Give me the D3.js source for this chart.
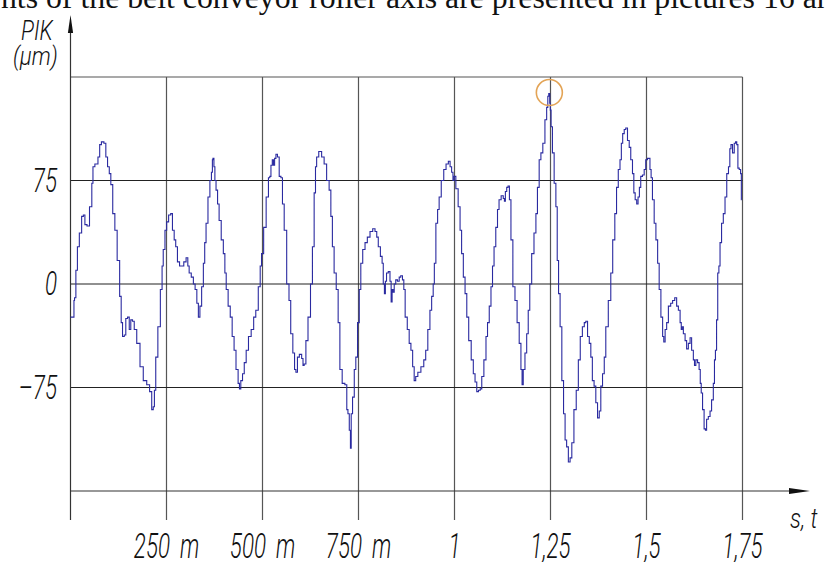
<!DOCTYPE html>
<html>
<head>
<meta charset="utf-8">
<script src="https://cdn.jsdelivr.net/npm/d3@7"></script>
<style>
  body { margin: 0; background: #fff; overflow: hidden; }
  .iso { font-family: Roboto, 'DejaVu Sans', sans-serif; font-weight: 300; font-style: italic; fill: #111; }
</style>
</head>
<body>
<script>
// profile of the roller axis, [time s, PIK um]
const profileA = [
  [0.000, -24], [0.009, -24], [0.009, -12], [0.012, -10], [0.016, 10], [0.020, 27], [0.026, 37], [0.032, 49],
  [0.035, 50], [0.040, 43], [0.046, 42], [0.053, 56], [0.058, 73], [0.059, 85], [0.068, 87], [0.075, 92],
  [0.077, 101], [0.084, 103], [0.090, 102], [0.094, 92], [0.099, 85], [0.103, 80], [0.107, 72], [0.113, 51],
  [0.118, 39], [0.125, 17], [0.131, -9], [0.133, -28], [0.138, -38], [0.142, -37], [0.146, -25], [0.151, -24],
  [0.155, -33], [0.159, -26], [0.164, -27], [0.168, -33], [0.177, -43], [0.185, -60], [0.194, -70], [0.203, -73],
  [0.209, -78], [0.214, -91], [0.217, -89], [0.220, -77], [0.224, -53], [0.231, -31], [0.237, -4], [0.240, 13],
  [0.243, 25], [0.249, 39], [0.252, 45], [0.259, 50], [0.263, 51], [0.268, 39], [0.272, 32], [0.276, 27],
  [0.281, 16], [0.287, 13], [0.292, 13], [0.298, 16], [0.304, 19], [0.307, 13], [0.311, 8], [0.318, 5],
  [0.322, 0], [0.327, -4], [0.331, -14], [0.335, -24], [0.339, -16], [0.344, -2], [0.348, 15], [0.351, 30],
  [0.355, 44], [0.361, 63], [0.365, 75], [0.369, 81], [0.370, 90], [0.372, 91], [0.375, 85], [0.377, 75],
  [0.381, 68], [0.385, 58], [0.389, 46], [0.396, 32], [0.400, 22], [0.404, 8], [0.407, -4], [0.414, -16],
  [0.418, -24], [0.424, -38], [0.428, -48], [0.434, -62], [0.439, -72], [0.441, -76], [0.446, -70], [0.450, -65],
  [0.455, -57], [0.460, -48], [0.467, -38], [0.474, -33], [0.480, -24], [0.485, -19], [0.493, -2], [0.495, 13],
  [0.500, 22], [0.506, 41], [0.513, 63], [0.518, 77]
];
const profileB = [
  [0.520, 78], [0.524, 86], [0.527, 90], [0.530, 86], [0.533, 91], [0.537, 94], [0.541, 92], [0.546, 78],
  [0.550, 77], [0.554, 58], [0.559, 39], [0.567, 0], [0.571, -12], [0.576, -36], [0.582, -50], [0.585, -62],
  [0.589, -64], [0.593, -53], [0.599, -51], [0.605, -54], [0.606, -59], [0.611, -58], [0.615, -41], [0.622, -24],
  [0.628, 0], [0.632, 27], [0.637, 66], [0.639, 85], [0.643, 92], [0.650, 96], [0.658, 92], [0.663, 87],
  [0.671, 75], [0.676, 68], [0.680, 49], [0.684, 27], [0.689, 8], [0.695, -4], [0.699, -28], [0.704, -62],
  [0.711, -72], [0.718, -73], [0.721, -91], [0.724, -94], [0.728, -106], [0.730, -119], [0.732, -94], [0.737, -82],
  [0.741, -62], [0.745, -53], [0.750, -28], [0.754, -4], [0.758, 15], [0.764, 25], [0.770, 30], [0.776, 34],
  [0.784, 38], [0.790, 40], [0.796, 38], [0.799, 34], [0.804, 27], [0.810, 20], [0.813, 15], [0.816, 0],
  [0.819, -7], [0.821, 2], [0.825, 8], [0.830, 9], [0.834, 2], [0.836, -13], [0.839, -4], [0.841, -6],
  [0.845, 0], [0.849, 3], [0.854, 2], [0.858, 5], [0.862, 6], [0.867, 3], [0.869, -4], [0.874, -24],
  [0.880, -33], [0.884, -43], [0.889, -48], [0.893, -60], [0.897, -70], [0.901, -67], [0.908, -64], [0.917, -60],
  [0.923, -55], [0.927, -48], [0.934, -33], [0.938, -19], [0.943, -9], [0.946, 0], [0.949, 15], [0.954, 44],
  [0.958, 54], [0.962, 63], [0.969, 75], [0.975, 83], [0.981, 87], [0.987, 89], [0.990, 85], [0.995, 81],
  [0.997, 75], [1.001, 78]
];
const profileC = [
  [1.006, 69], [1.013, 56], [1.016, 39], [1.021, 22], [1.025, 5], [1.030, -7], [1.034, -24], [1.040, -41],
  [1.047, -55], [1.051, -65], [1.056, -71], [1.060, -78], [1.065, -77], [1.069, -76], [1.073, -67], [1.080, -55],
  [1.084, -38], [1.088, -28], [1.093, -16], [1.097, -2], [1.101, 13], [1.105, 27], [1.110, 41], [1.114, 54],
  [1.118, 61], [1.125, 64], [1.129, 62], [1.131, 60], [1.134, 67], [1.138, 70], [1.141, 71], [1.145, 61],
  [1.149, 32], [1.155, -2], [1.160, -12], [1.166, -28], [1.171, -43], [1.175, -62], [1.177, -73], [1.181, -62],
  [1.186, -50], [1.190, -36], [1.194, -19], [1.198, 0], [1.204, 22], [1.210, 37], [1.214, 51], [1.218, 70],
  [1.223, 90], [1.227, 95], [1.233, 102], [1.238, 119], [1.242, 128], [1.244, 136], [1.247, 138], [1.249, 131],
  [1.250, 126], [1.253, 114], [1.257, 95], [1.262, 73], [1.266, 56], [1.269, 17], [1.273, -7], [1.277, -31],
  [1.282, -70], [1.286, -94], [1.290, -113], [1.294, -118], [1.299, -129], [1.303, -126], [1.308, -115], [1.314, -91],
  [1.320, -77], [1.325, -55], [1.330, -38], [1.336, -31], [1.340, -28], [1.344, -27], [1.349, -38], [1.353, -43],
  [1.357, -53], [1.361, -70], [1.366, -74], [1.370, -86], [1.375, -97], [1.379, -92], [1.383, -74], [1.388, -65],
  [1.392, -53], [1.396, -31], [1.405, -12], [1.409, 8], [1.415, 32], [1.420, 51], [1.424, 70], [1.429, 83],
  [1.433, 90], [1.436, 102], [1.440, 109], [1.444, 112], [1.448, 113], [1.453, 104], [1.457, 99], [1.461, 90],
  [1.466, 80], [1.468, 66], [1.473, 61], [1.476, 58], [1.480, 63], [1.483, 70], [1.487, 78], [1.492, 79],
  [1.496, 83], [1.500, 90]
];
const profileD = [
  [1.505, 91], [1.507, 91], [1.511, 83], [1.513, 77], [1.518, 61], [1.522, 44], [1.527, 32], [1.531, 15],
  [1.535, -4], [1.540, -24], [1.544, -38], [1.546, -42], [1.551, -33], [1.554, -28], [1.560, -16], [1.566, -14],
  [1.570, -12], [1.577, -10], [1.580, -16], [1.586, -19], [1.589, -28], [1.592, -33], [1.594, -31], [1.598, -36],
  [1.603, -41], [1.606, -47], [1.612, -43], [1.615, -39], [1.620, -48], [1.624, -55], [1.626, -59], [1.631, -55],
  [1.635, -57], [1.639, -62], [1.641, -72], [1.644, -79], [1.648, -91], [1.652, -105], [1.655, -106], [1.658, -98],
  [1.664, -96], [1.667, -92], [1.672, -84], [1.676, -72], [1.678, -55], [1.681, -48], [1.684, -26], [1.687, 8],
  [1.690, 13], [1.693, 30], [1.698, 44], [1.702, 51], [1.707, 63], [1.711, 80], [1.716, 85], [1.718, 98],
  [1.722, 101], [1.726, 95], [1.731, 102], [1.733, 103], [1.737, 101], [1.739, 84], [1.744, 83], [1.746, 80],
  [1.748, 61]
];
const profile = profileA.concat(profileB, profileC, profileD);

const xTicks = [0.25, 0.5, 0.75, 1, 1.25, 1.5, 1.75];
const xTickLabels = ['250\u00a0\u2009m', '500\u00a0\u2009m', '750\u00a0\u2009m', '1', '1,25', '1,5', '1,75'];
const yTicks = [75, 0, -75];
const yTickLabels = ['75', '0', '\u201375'];
const gridY = [150, 75, 0, -75];
const marked = [1.247, 138]; // circled peak

const width = 825;
const height = 562;

const svg = d3.select('body')
  .append('svg')
  .attr('width', width)
  .attr('height', height);

const x = d3.scaleLinear().domain([0, 1.75]).range([70.5, 742.5]);
const y = d3.scaleLinear().domain([-150, 150]).range([491, 77]);
const tickBottom = 520;

// cropped caption line at the very top
svg.append('text')
  .attr('x', -75)
  .attr('y', 8)
  .style('font-family', "'Liberation Serif', 'Times New Roman', serif")
  .style('font-size', '31.8px')
  .attr('fill', '#111')
  .text('elements of the belt conveyor roller axis are presented in pictures 16 and');

// vertical grid lines (run down past the axis as ticks)
svg.selectAll('.vgrid')
  .data(xTicks)
  .enter().append('line')
  .attr('class', 'vgrid')
  .attr('x1', (d) => x(d))
  .attr('x2', (d) => x(d))
  .attr('y1', y(150))
  .attr('y2', tickBottom)
  .attr('stroke', '#555')
  .attr('stroke-width', 1.2);

// horizontal grid lines
svg.selectAll('.hgrid')
  .data(gridY)
  .enter().append('line')
  .attr('class', 'hgrid')
  .attr('x1', x(0))
  .attr('x2', x(1.75))
  .attr('y1', (d) => y(d))
  .attr('y2', (d) => y(d))
  .attr('stroke', (d) => (d === 150 ? '#555' : '#222'))
  .attr('stroke-width', 1.2);

// axes with arrows
svg.append('line')
  .attr('x1', x(0)).attr('x2', 792)
  .attr('y1', y(-150)).attr('y2', y(-150))
  .attr('stroke', '#333').attr('stroke-width', 1.2);
svg.append('path')
  .attr('d', `M810,${y(-150)} L789,${y(-150) - 3} L789,${y(-150) + 3} Z`)
  .attr('fill', '#111');

svg.append('line')
  .attr('x1', x(0)).attr('x2', x(0))
  .attr('y1', 30).attr('y2', tickBottom)
  .attr('stroke', '#333').attr('stroke-width', 1.2);
svg.append('path')
  .attr('d', `M${x(0)},15 L${x(0) - 2.6},33 L${x(0) + 2.6},33 Z`)
  .attr('fill', '#111');

// the profile trace
const line = d3.line()
  .x((d) => x(d[0]))
  .y((d) => y(d[1]))
  .curve(d3.curveStep);

svg.append('path')
  .datum(profile)
  .attr('d', line)
  .attr('fill', 'none')
  .attr('stroke', '#2a2aa0')
  .attr('stroke-width', 1.1);

// circled maximum
svg.append('circle')
  .attr('cx', x(marked[0]))
  .attr('cy', y(marked[1]) - 1)
  .attr('r', 13)
  .attr('fill', 'none')
  .attr('stroke', '#e3a456')
  .attr('stroke-width', 1.6);

// drafting-style lettering
function iso(px, py, str, size, anchor, sx) {
  svg.append('text')
    .attr('class', 'iso')
    .attr('transform', `translate(${px},${py}) scale(${sx},1)`)
    .attr('text-anchor', anchor)
    .style('font-size', `${size}px`)
    .text(str);
}

xTicks.forEach((t, i) => iso(x(t), 558, xTickLabels[i], 35, 'middle', 0.64));
yTicks.forEach((t, i) => iso(57, y(t) + 11, yTickLabels[i], 34, 'end', 0.66));

iso(21, 40, 'PIK', 27, 'start', 0.8);
iso(13, 65, '(\u03bcm)', 26, 'start', 0.85);
iso(790, 528, 's,  t', 28, 'start', 0.8);
</script>
</body>
</html>
